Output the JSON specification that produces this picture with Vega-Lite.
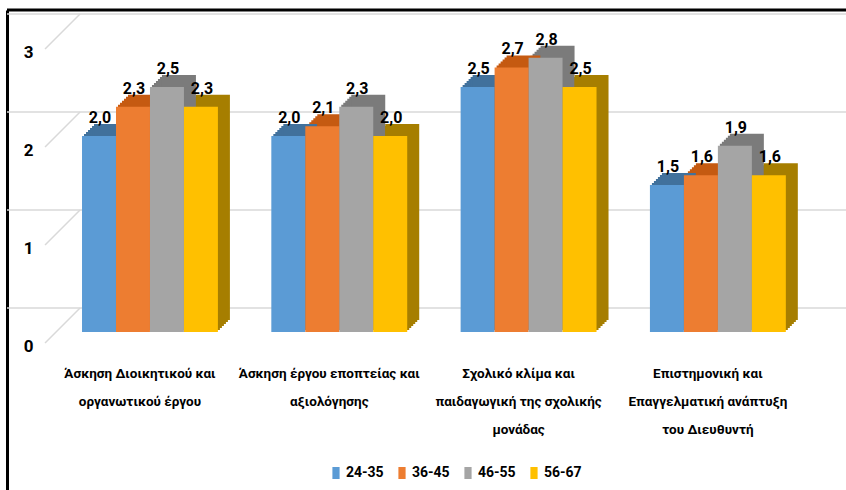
{
  "$schema": "https://vega.github.io/schema/vega-lite/v6.json",
  "width": 839,
  "height": 480,
  "autosize": {"type": "none"},
  "padding": {"left": 7, "top": 10, "right": 0, "bottom": 0},
  "background": "white",
  "config": {
    "view": {"stroke": null},
    "locale": {"number": {"decimal": ",", "thousands": ".", "grouping": [3], "currency": ["", " €"]}}
  },
  "data": {
    "values": [
      {"category": "Άσκηση Διοικητικού και|οργανωτικού έργου", "age": "24-35", "value": 2.0},
      {"category": "Άσκηση Διοικητικού και|οργανωτικού έργου", "age": "36-45", "value": 2.3},
      {"category": "Άσκηση Διοικητικού και|οργανωτικού έργου", "age": "46-55", "value": 2.5},
      {"category": "Άσκηση Διοικητικού και|οργανωτικού έργου", "age": "56-67", "value": 2.3},
      {"category": "Άσκηση έργου εποπτείας  και|αξιολόγησης", "age": "24-35", "value": 2.0},
      {"category": "Άσκηση έργου εποπτείας  και|αξιολόγησης", "age": "36-45", "value": 2.1},
      {"category": "Άσκηση έργου εποπτείας  και|αξιολόγησης", "age": "46-55", "value": 2.3},
      {"category": "Άσκηση έργου εποπτείας  και|αξιολόγησης", "age": "56-67", "value": 2.0},
      {"category": "Σχολικό κλίμα και|παιδαγωγική της σχολικής|μονάδας", "age": "24-35", "value": 2.5},
      {"category": "Σχολικό κλίμα και|παιδαγωγική της σχολικής|μονάδας", "age": "36-45", "value": 2.7},
      {"category": "Σχολικό κλίμα και|παιδαγωγική της σχολικής|μονάδας", "age": "46-55", "value": 2.8},
      {"category": "Σχολικό κλίμα και|παιδαγωγική της σχολικής|μονάδας", "age": "56-67", "value": 2.5},
      {"category": "Επιστημονική και|Επαγγελματική ανάπτυξη|του Διευθυντή", "age": "24-35", "value": 1.5},
      {"category": "Επιστημονική και|Επαγγελματική ανάπτυξη|του Διευθυντή", "age": "36-45", "value": 1.6},
      {"category": "Επιστημονική και|Επαγγελματική ανάπτυξη|του Διευθυντή", "age": "46-55", "value": 1.9},
      {"category": "Επιστημονική και|Επαγγελματική ανάπτυξη|του Διευθυντή", "age": "56-67", "value": 1.6}
    ]
  },
  "resolve": {"scale": {"color": "independent", "xOffset": "independent"}},
  "layer": [
    {
      "data": {"values": [{"value": 0}, {"value": 1}, {"value": 2}, {"value": 3}]},
      "mark": {"type": "rule", "color": "#D9D9D9", "strokeWidth": 1.5, "xOffset": 73, "x2Offset": -11, "yOffset": -24},
      "encoding": {
        "y": {"field": "value", "type": "quantitative", "scale": {"domain": [-1.612, 3.286], "nice": false, "zero": false},
          "axis": {"title": null, "values": [0, 1, 2, 3], "domain": true, "domainColor": "#000000", "domainWidth": 3, "ticks": false, "tickSize": 0, "grid": false, "labelAlign": "right", "labelPadding": -26, "labelOffset": 14, "labelFont": "Roboto", "labelFontSize": 17, "labelFontWeight": "bold", "labelColor": "#000000", "format": "d"}}
      }
    },
    {
      "data": {"values": [{"value": 0}, {"value": 1}, {"value": 2}, {"value": 3}]},
      "mark": {"type": "rule", "color": "#D9D9D9", "strokeWidth": 1.5, "xOffset": -37, "x2Offset": -2, "yOffset": 11, "y2Offset": -24},
      "encoding": {
        "x": {"datum": "Άσκηση Διοικητικού και|οργανωτικού έργου", "bandPosition": 0, "type": "nominal"},
        "x2": {"datum": "Άσκηση Διοικητικού και|οργανωτικού έργου", "bandPosition": 0},
        "y": {"field": "value", "type": "quantitative"},
        "y2": {"field": "value"}
      }
    },
    {
      "mark": {"type": "bar", "yOffset": -2, "y2Offset": -2},
      "encoding": {
        "x": {"field": "category", "type": "nominal", "sort": null, "scale": {"paddingInner": 0.282, "paddingOuter": 0.357, "align": 0.555},
          "axis": {"title": null, "orient": "bottom", "offset": -128, "domain": false, "ticks": false, "tickSize": 0, "labelPadding": 4, "labelAngle": 0, "labelAlign": "center", "labelFont": "Roboto", "labelFontSize": 13.5, "labelFontWeight": "bold", "labelColor": "#000000", "labelExpr": "split(datum.label, '|')", "labelLineHeight": 28, "labelOffset": -10, "labelBaseline": "top", "labelLimit": 0, "labelOverlap": false}},
        "xOffset": {"field": "age", "type": "nominal", "sort": null, "scale": {"paddingInner": 0, "paddingOuter": 0, "range": [2, 137.9]}},
        "y": {"field": "value", "type": "quantitative"},
        "color": {"field": "age", "type": "nominal", "legend": null, "scale": {"domain": ["24-35", "36-45", "46-55", "56-67"], "range": ["#41719C", "#C55A11", "#7B7B7B", "#A67E00"]}}
      }
    },
    {
      "mark": {"type": "bar", "yOffset": -4, "y2Offset": -4},
      "encoding": {
        "x": {"field": "category", "type": "nominal", "sort": null},
        "xOffset": {"field": "age", "type": "nominal", "sort": null, "scale": {"paddingInner": 0, "paddingOuter": 0, "range": [4, 139.9]}},
        "y": {"field": "value", "type": "quantitative"},
        "color": {"field": "age", "type": "nominal", "legend": null, "scale": {"domain": ["24-35", "36-45", "46-55", "56-67"], "range": ["#41719C", "#C55A11", "#7B7B7B", "#A67E00"]}}
      }
    },
    {
      "mark": {"type": "bar", "yOffset": -6, "y2Offset": -6},
      "encoding": {
        "x": {"field": "category", "type": "nominal", "sort": null},
        "xOffset": {"field": "age", "type": "nominal", "sort": null, "scale": {"paddingInner": 0, "paddingOuter": 0, "range": [6, 141.9]}},
        "y": {"field": "value", "type": "quantitative"},
        "color": {"field": "age", "type": "nominal", "legend": null, "scale": {"domain": ["24-35", "36-45", "46-55", "56-67"], "range": ["#41719C", "#C55A11", "#7B7B7B", "#A67E00"]}}
      }
    },
    {
      "mark": {"type": "bar", "yOffset": -8, "y2Offset": -8},
      "encoding": {
        "x": {"field": "category", "type": "nominal", "sort": null},
        "xOffset": {"field": "age", "type": "nominal", "sort": null, "scale": {"paddingInner": 0, "paddingOuter": 0, "range": [8, 143.9]}},
        "y": {"field": "value", "type": "quantitative"},
        "color": {"field": "age", "type": "nominal", "legend": null, "scale": {"domain": ["24-35", "36-45", "46-55", "56-67"], "range": ["#41719C", "#C55A11", "#7B7B7B", "#A67E00"]}}
      }
    },
    {
      "mark": {"type": "bar", "yOffset": -10, "y2Offset": -10},
      "encoding": {
        "x": {"field": "category", "type": "nominal", "sort": null},
        "xOffset": {"field": "age", "type": "nominal", "sort": null, "scale": {"paddingInner": 0, "paddingOuter": 0, "range": [10, 145.9]}},
        "y": {"field": "value", "type": "quantitative"},
        "color": {"field": "age", "type": "nominal", "legend": null, "scale": {"domain": ["24-35", "36-45", "46-55", "56-67"], "range": ["#41719C", "#C55A11", "#7B7B7B", "#A67E00"]}}
      }
    },
    {
      "mark": {"type": "bar", "yOffset": -12, "y2Offset": -12},
      "encoding": {
        "x": {"field": "category", "type": "nominal", "sort": null},
        "xOffset": {"field": "age", "type": "nominal", "sort": null, "scale": {"paddingInner": 0, "paddingOuter": 0, "range": [12, 147.9]}},
        "y": {"field": "value", "type": "quantitative"},
        "color": {"field": "age", "type": "nominal", "legend": null, "scale": {"domain": ["24-35", "36-45", "46-55", "56-67"], "range": ["#41719C", "#C55A11", "#7B7B7B", "#A67E00"]}}
      }
    },
    {
      "mark": {"type": "bar"},
      "encoding": {
        "x": {"field": "category", "type": "nominal", "sort": null},
        "xOffset": {"field": "age", "type": "nominal", "sort": null, "scale": {"paddingInner": 0, "paddingOuter": 0, "range": [0, 135.9]}},
        "y": {"field": "value", "type": "quantitative"},
        "color": {"field": "age", "type": "nominal",
          "scale": {"domain": ["24-35", "36-45", "46-55", "56-67"], "range": ["#5B9BD5", "#ED7D31", "#A5A5A5", "#FFC000"]},
          "legend": {"title": null, "orient": "none", "direction": "horizontal", "legendX": 322, "legendY": 456, "padding": 0, "symbolType": "M-0.6,-1H0.6V1H-0.6Z", "symbolSize": 144, "symbolStrokeWidth": 0, "labelFont": "Roboto", "labelFontSize": 14, "labelFontWeight": "bold", "labelColor": "#000000", "labelOffset": 3, "columnPadding": 11}}
      }
    },
    {
      "mark": {"type": "text", "baseline": "alphabetic", "dy": -13, "dx": 1, "font": "Roboto", "fontSize": 16, "fontWeight": "bold", "color": "#000000"},
      "encoding": {
        "x": {"field": "category", "type": "nominal", "sort": null},
        "xOffset": {"field": "age", "type": "nominal", "sort": null, "scale": {"type": "band", "paddingInner": 0, "paddingOuter": 0, "range": [0, 135.9]}},
        "y": {"field": "value", "type": "quantitative"},
        "text": {"field": "value", "type": "quantitative", "format": ".1f"}
      }
    },
    {
      "data": {"values": [{"top": 3.286}]},
      "mark": {"type": "rule", "color": "#000000", "strokeWidth": 3},
      "encoding": {
        "y": {"field": "top", "type": "quantitative"}
      }
    }
  ]
}
